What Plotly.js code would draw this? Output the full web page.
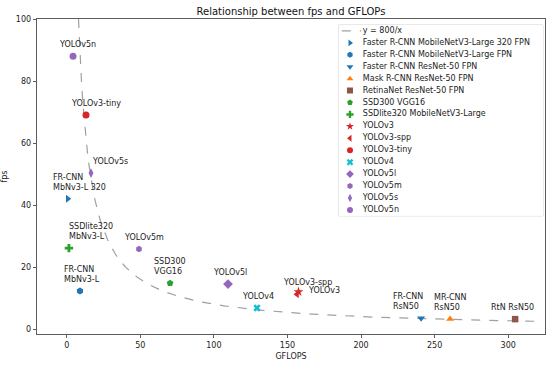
<!DOCTYPE html>
<html><head><meta charset="utf-8">
<script src="https://cdn.plot.ly/plotly-3.0.1.min.js"></script>
<style>html,body{margin:0;padding:0;background:#fff}#chart{width:550px;height:365px}</style>
</head><body><div id="chart"></div><script>
// ---- data ----
const models = [
  "Faster R-CNN MobileNetV3-Large 320 FPN",
  "Faster R-CNN MobileNetV3-Large FPN",
  "Faster R-CNN ResNet-50 FPN",
  "Mask R-CNN ResNet-50 FPN",
  "RetinaNet ResNet-50 FPN",
  "SSD300 VGG16",
  "SSDlite320 MobileNetV3-Large",
  "YOLOv3",
  "YOLOv3-spp",
  "YOLOv3-tiny",
  "YOLOv4",
  "YOLOv5l",
  "YOLOv5m",
  "YOLOv5s",
  "YOLOv5n"
];
const gflops = [0.7, 9.0, 240.8, 260.5, 304.7, 70.2, 1.5, 157.5, 156.5, 13.1, 129.3, 109.6, 49.1, 16.5, 4.3];
const fps    = [42.0, 12.3, 3.5, 3.2, 3.2, 14.8, 26.1, 12.0, 11.2, 69.0, 6.8, 14.5, 25.8, 50.3, 88.0];
const shortLabels = [
  "FR-CNN<br>MbNv3-L 320",
  "FR-CNN<br>MbNv3-L",
  "FR-CNN<br>RsN50",
  "MR-CNN<br>RsN50",
  "RtN RsN50",
  "SSD300<br>VGG16",
  "SSDlite320<br>MbNv3-L",
  "YOLOv3",
  "YOLOv3-spp",
  "YOLOv3-tiny",
  "YOLOv4",
  "YOLOv5l",
  "YOLOv5m",
  "YOLOv5s",
  "YOLOv5n"
];
const curveName = "y = 800/x";
const curveK = 800;
const curveXStart = 8;
const curveXEnd = 320;
const xTicks = [0, 50, 100, 150, 200, 250, 300];
const yTicks = [0, 20, 40, 60, 80, 100];

// ---- styles ----
const colors = ["#1f77b4","#1f77b4","#1f77b4","#ff7f0e","#8c564b","#2ca02c","#2ca02c",
                "#d62728","#d62728","#d62728","#17becf","#9467bd","#9467bd","#9467bd","#9467bd"];
const symbols = ["triangle-right","hexagon","triangle-down","triangle-up","square","pentagon","cross",
                 "star","triangle-left","circle","x","diamond","hexagon","diamond-tall","circle"];
const markerSizes = [7, 7, 7, 7, 6.5, 7, 7, 7.5, 7, 7, 6.5, 7.5, 6.5, 7, 7];
const labelDx = [-16, -17, -29, -17, -25, -17, -1, 8, -15, -16, -16, -16, -16, 0, -15];
const labelDy = [11, 11, 11, 11, 11, 11, 11, 1, 11, 11, 11, 11, 11, 11, 11];
const FONT = "DejaVu Sans, sans-serif";
const TXT = "#222";

// ---- curve ----
const curveX = [], curveY = [];
const nSteps = 300;
for (let i = 0; i <= nSteps; i++) {
  const x = curveXStart + (curveXEnd - curveXStart) * i / nSteps;
  curveX.push(x); curveY.push(curveK / x);
}

const traces = [];
traces.push({x: curveX, y: curveY, mode: "lines", name: curveName, showlegend: false,
  line: {color: "#a0a0a0", width: 1.2, dash: "dash"}, hoverinfo: "skip"});
models.forEach((m, i) => {
  traces.push({x: [gflops[i]], y: [fps[i]], mode: "markers", name: m, showlegend: false,
    marker: {symbol: symbols[i], color: colors[i], size: markerSizes[i], line: {width: 0}}});
});

// ---- custom compact legend (drawn on its own axes) ----
const nRows = models.length + 1;
traces.push({x: [0.015, 0.11], y: [0.5, 0.5], xaxis: "x2", yaxis: "y2", mode: "lines", showlegend: false,
  line: {color: "#a0a0a0", width: 1.2, dash: "dash"}, hoverinfo: "skip"});
traces.push({x: models.map(() => 0.055), y: models.map((_, i) => i + 1.5), xaxis: "x2", yaxis: "y2",
  mode: "markers", showlegend: false, hoverinfo: "skip",
  marker: {symbol: symbols, color: colors, size: 6, line: {width: 0}}});
traces.push({x: Array(nRows).fill(0.118), y: [...Array(nRows).keys()].map(i => i + 0.5), xaxis: "x2", yaxis: "y2",
  mode: "text", text: [curveName, ...models], textposition: "middle right", showlegend: false, hoverinfo: "skip",
  cliponaxis: false, textfont: {family: FONT, size: 8, color: TXT}});

const annotations = models.map((m, i) => ({
  x: gflops[i], y: fps[i], xref: "x", yref: "y", text: shortLabels[i], showarrow: false,
  xanchor: "left", yanchor: "bottom", align: "left",
  xshift: labelDx[i] - 1, yshift: labelDy[i] - 6,
  font: {family: FONT, size: 8, color: TXT}
}));

const layout = {
  width: 550, height: 365,
  margin: {l: 37, r: 5, t: 19, b: 31},
  paper_bgcolor: "#fff", plot_bgcolor: "#fff",
  font: {family: FONT, size: 8, color: TXT},
  title: {text: "Relationship between fps and GFLOPs", x: 0.529, xanchor: "center",
    y: 1 - 11 / 365, yanchor: "middle", font: {family: FONT, size: 10, color: "#111"}},
  showlegend: false,
  xaxis: {range: [-20.2, 325], tickvals: xTicks, ticks: "outside", ticklen: 3.5, tickwidth: 0.8,
    tickcolor: "#333", showline: true, linecolor: "#333", linewidth: 0.8, mirror: true,
    showgrid: false, zeroline: false, tickfont: {family: FONT, size: 8, color: TXT},
    title: {text: "GFLOPS", font: {family: FONT, size: 8, color: TXT}, standoff: 4}, automargin: false},
  yaxis: {range: [-1.6, 100], tickvals: yTicks, ticks: "outside", ticklen: 3.5, tickwidth: 0.8,
    tickcolor: "#333", showline: true, linecolor: "#333", linewidth: 0.8, mirror: true,
    showgrid: false, zeroline: false, tickfont: {family: FONT, size: 8, color: TXT},
    title: {text: "fps", font: {family: FONT, size: 8, color: TXT}, standoff: 8}, automargin: false},
  xaxis2: {domain: [0.594, 0.996], range: [0, 1], anchor: "y2", visible: false, fixedrange: true},
  yaxis2: {domain: [0.375, 0.981], range: [nRows, 0], anchor: "x2", visible: false, fixedrange: true},
  shapes: [{type: "rect", xref: "x2 domain", yref: "y2 domain", x0: 0, x1: 1, y0: 0, y1: 1,
    fillcolor: "rgba(255,255,255,0.85)", line: {color: "#d4d4d4", width: 1}, layer: "below"}],
  annotations: annotations
};

Plotly.newPlot("chart", traces, layout, {staticPlot: true, displayModeBar: false});
</script></body></html>
